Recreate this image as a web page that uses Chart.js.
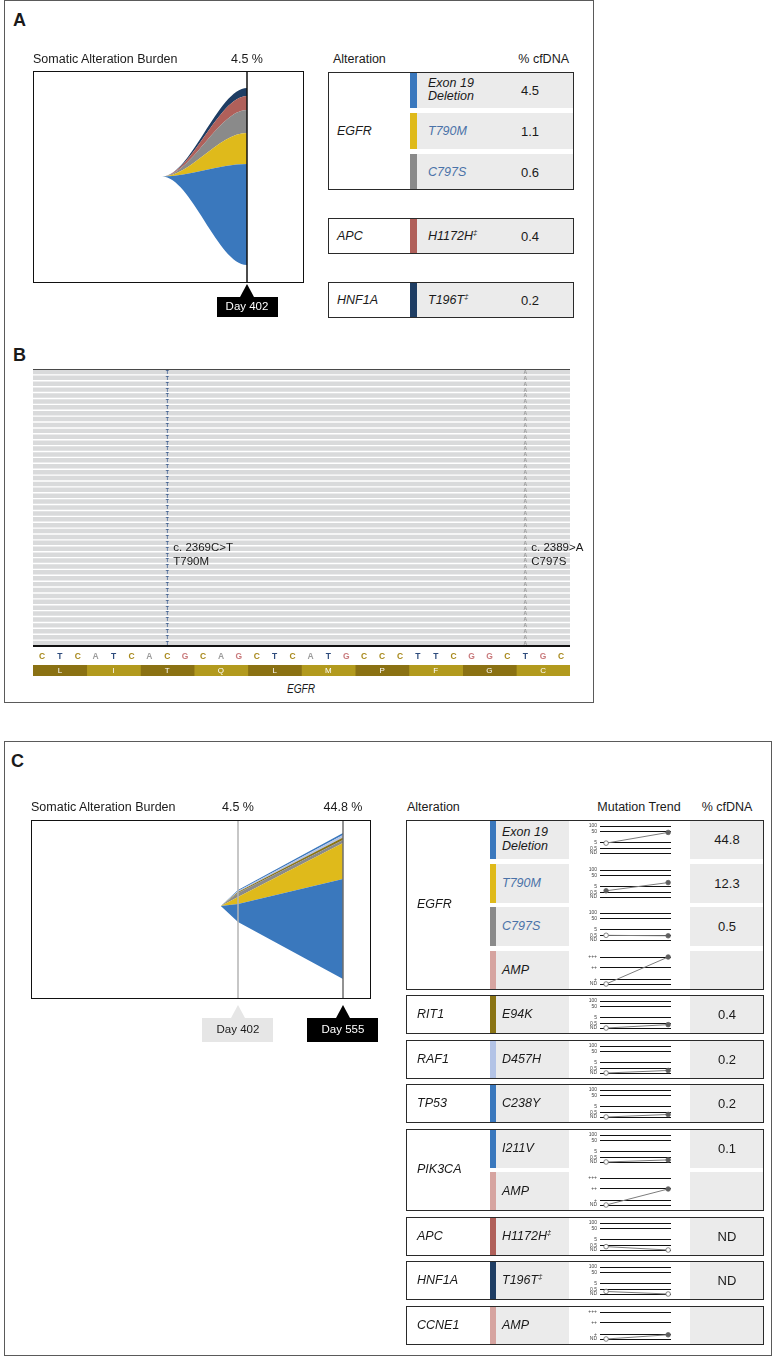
<!DOCTYPE html>
<html>
<head>
<meta charset="utf-8">
<title>Somatic alteration burden</title>
<script src="https://cdn.jsdelivr.net/npm/chart.js@4.4.1/dist/chart.umd.min.js"></script>
<style>
  body { margin:0; width:775px; height:1358px; position:relative; overflow:hidden; background:#fff;
         font-family:"Liberation Sans", Arial, Helvetica, sans-serif; color:#1a1a1a; }
  .t { position:absolute; white-space:nowrap; line-height:1; }
  .b { position:absolute; box-sizing:border-box; }
  canvas { position:absolute; }
  sup { font-size:0.6em; position:relative; top:-0.1em; vertical-align:top; }
</style>
</head>
<body>
<script>
// ==========================================
// Data
// ==========================================

// Panel A - alterations found at day 402
const aGenes = ["EGFR", "EGFR", "EGFR", "APC", "HNF1A"];
const aAlterations = ["Exon 19 Deletion", "T790M", "C797S", "H1172H‡", "T196T‡"];
const aCfDNA = [4.5, 1.1, 0.6, 0.4, 0.2];
const aColors = ["#3a78bd", "#dfba1b", "#8a8a8a", "#b0605a", "#1e3d63"];

// Fish plot A: band thickness (plot units, bottom to top) at emergence and day 402
const fishADays = [250, 402];
const fishABands = [[0, 101], [0, 31], [0, 23], [0, 14], [0, 8]];

// Panel B - reads over EGFR exon 20
const refSeq = ["C","T","C","A","T","C","A","C","G","C","A","G","C","T","C",
                "A","T","G","C","C","C","T","T","C","G","G","C","T","G","C"];
const aminoAcids = ["L", "I", "T", "Q", "L", "M", "P", "F", "G", "C"];
const readCount = 47;
const readSpan = [0, 30];
const mutPos = [7, 27];
const mutBase = ["T", "A"];
const mutLabels = [["c. 2369C>T", "T790M"], ["c. 2389>A", "C797S"]];

// Panel C - alterations at day 555
const cGenes = ["EGFR", "EGFR", "EGFR", "EGFR", "RIT1", "RAF1", "TP53", "PIK3CA", "PIK3CA", "APC", "HNF1A", "CCNE1"];
const cAlterations = ["Exon 19 Deletion", "T790M", "C797S", "AMP", "E94K", "D457H", "C238Y", "I211V", "AMP", "H1172H‡", "T196T‡", "AMP"];
const cCfDNA = [44.8, 12.3, 0.5, null, 0.4, 0.2, 0.2, 0.1, null, "ND", "ND", null];
const cColors = ["#3a78bd", "#dfba1b", "#8a8a8a", "#d6a4a0", "#8a7414", "#b3c3e6", "#3a78bd", "#3a78bd", "#d6a4a0", "#b0605a", "#1e3d63", "#d6a4a0"];

// Mutation trend: day 402 -> day 555
const trendDays = [402, 555];
const trendStart = [4.5, 1.1, 0.6, "ND", "ND", "ND", "ND", "ND", "ND", 0.4, 0.2, "ND"];
const trendEnd = [44.8, 12.3, 0.5, "+++", 0.4, 0.2, 0.2, 0.1, "++", "ND", "ND", "+"];
const startOpen = [true, false, true, true, true, true, true, true, true, true, true, true];
const endOpen = [false, false, false, false, false, false, false, false, false, true, true, false];

// Fish plot C: band thickness at emergence, day 402, day 555
const fishCDays = [377, 402, 555];
const fishCBands = [[0, 18, 100], [0, 7, 36], [0, 4, 3], [0, 1, 2.5], [0, 1, 2.5], [0, 1, 2]];
const fishCColors = ["#3a78bd", "#dfba1b", "#8a8a8a", "#8a7414", "#b3c3e6", "#3a78bd"];

const baseColors = { C: "#a8891c", T: "#2d4b7c", A: "#9c9c9c", G: "#c97a7c" };
const resistance = ["T790M", "C797S"];

// ==========================================
// Helpers
// ==========================================

Chart.defaults.font.family = '"Liberation Sans", Arial, sans-serif';

function txt(s, x, base, size, o = {}) {
   const d = document.createElement("div");
   d.className = "t";
   d.innerHTML = s.replace("‡", "<sup>‡</sup>");
   d.style.left = x + "px";
   d.style.top = (base - 0.847 * size) + "px";
   d.style.fontSize = size + "px";
   let tr = "";
   if (o.align == "center") tr = "translateX(-50%)";
   if (o.align == "right") tr = "translateX(-100%)";
   if (o.scaleX) tr += " scaleX(" + o.scaleX + ")";
   if (tr) d.style.transform = tr;
   if (o.italic) d.style.fontStyle = "italic";
   if (o.bold) d.style.fontWeight = "bold";
   if (o.color) d.style.color = o.color;
   document.body.appendChild(d);
   return d;
}

function box(x, y, w, h, style) {
   const d = document.createElement("div");
   d.className = "b";
   d.style.cssText += `left:${x}px;top:${y}px;width:${w}px;height:${h}px;${style}`;
   document.body.appendChild(d);
   return d;
}

function canvasAt(x, y, w, h) {
   const c = document.createElement("canvas");
   c.width = w; c.height = h;
   c.style.cssText = `left:${x}px;top:${y}px;width:${w}px;height:${h}px`;
   document.body.appendChild(c);
   return c;
}

function pointer(x, y, w, h, label, bg, fg) {
   // triangle + box under a fish plot
   const tri = document.createElement("div");
   tri.className = "b";
   tri.style.cssText += `left:${x - 7}px;top:${y - 13}px;width:0;height:0;border-left:7px solid transparent;border-right:7px solid transparent;border-bottom:13px solid ${bg}`;
   document.body.appendChild(tri);
   box(x - w / 2, y, w, h, "background:" + bg);
   txt(label, x, y + h / 2 + 4.1, 11.5, { align: "center", color: fg });
}

function groupsOf(genes) {
   const g = [];
   genes.forEach((name, i) => {
      if (!g.length || g[g.length - 1].gene != name) g.push({ gene: name, rows: [] });
      g[g.length - 1].rows.push(i);
   });
   return g;
}

function nameLines(s) {
   if (s.length > 10) { const k = s.lastIndexOf(" "); return [s.slice(0, k), s.slice(k + 1)]; }
   return [s];
}

// ==========================================
// Fish plots
// ==========================================

function fishDatasets(days, bands, colors, smooth) {
   let xs = days.slice(), cols = bands.map(b => b.slice());
   if (smooth) {
      // flat lead-in / lead-out so the monotone curve leaves and meets each sample flat
      xs = [days[0] - 40, ...days, days[days.length - 1] + 80];
      cols = bands.map(b => [b[0], ...b, b[b.length - 1]]);
   }
   const totals = xs.map((_, j) => cols.reduce((s, b) => s + b[j], 0));
   let edge = totals.map(t => -t / 2);
   const common = { borderWidth: 0, borderColor: "rgba(0,0,0,0)", pointRadius: 0, tension: 0,
                    cubicInterpolationMode: smooth ? "monotone" : "default" };
   const sets = [{ ...common, data: xs.map((x, j) => ({ x, y: edge[j] })), fill: false }];
   cols.forEach((b, k) => {
      edge = edge.map((e, j) => e + b[j]);
      sets.push({ ...common, data: xs.map((x, j) => ({ x, y: edge[j] })), fill: "-1", backgroundColor: colors[k] });
   });
   return sets;
}

function fishFrame(lines, lastDay) {
   return {
      id: "fishFrame",
      beforeDatasetsDraw(chart) {
         const { ctx, chartArea: a, scales: { x } } = chart;
         ctx.save();
         ctx.beginPath();
         ctx.rect(a.left, a.top, x.getPixelForValue(lastDay) - a.left, a.bottom - a.top);
         ctx.clip();
      },
      afterDatasetsDraw(chart) {
         const { ctx, chartArea: a, scales: { x } } = chart;
         ctx.restore();
         lines.forEach(l => {
            const px = Math.round(x.getPixelForValue(l.day));
            ctx.save();
            ctx.strokeStyle = l.color;
            ctx.lineWidth = l.width;
            ctx.beginPath();
            ctx.moveTo(px, a.top);
            ctx.lineTo(px, a.bottom);
            ctx.stroke();
            ctx.restore();
         });
      }
   };
}

function fishChart(canvas, sets, xmin, xmax, ymin, ymax, plugin) {
   return new Chart(canvas, {
      type: "line",
      data: { datasets: sets },
      options: {
         animation: false, responsive: false, events: [],
         plugins: { legend: { display: false }, tooltip: { enabled: false } },
         scales: {
            x: { type: "linear", min: xmin, max: xmax, display: false },
            y: { type: "linear", min: ymin, max: ymax, display: false }
         }
      },
      plugins: [plugin]
   });
}

// ==========================================
// Panel frames and letters
// ==========================================

box(4, 0, 590, 703, "border:1.5px solid #5a5a5a");
box(4, 741, 768, 615, "border:1.5px solid #5a5a5a");
txt("A", 13, 26, 18, { bold: true });
txt("B", 13, 361, 18, { bold: true });
txt("C", 11, 767, 18, { bold: true });

// ---------- Panel A fish ----------
const fishA = fishChart(canvasAt(33, 71, 271, 212), fishDatasets(fishADays, fishABands, aColors, true),
   19, 504, -106.5, 105.5, fishFrame([{ day: 402, color: "#111", width: 1.5 }], 402));
box(33, 71, 271, 212, "border:1.5px solid #111");
const a402 = 33 + fishA.scales.x.getPixelForValue(402);
txt("Somatic Alteration Burden", 33, 64, 12.5);
txt(aCfDNA[0].toFixed(1) + " %", a402, 64, 12.5, { align: "center" });
pointer(a402, 297, 61, 20, "Day 402", "#000", "#fff");

// ---------- Panel A table ----------
txt("Alteration", 333, 64, 12.5);
txt("% cfDNA", 569, 64, 12.5, { align: "right" });
(function () {
   let y = 72;
   const rowH = 36, gap = 5;
   groupsOf(aGenes).forEach(g => {
      const h = g.rows.length * rowH + (g.rows.length - 1) * gap;
      g.rows.forEach((i, j) => {
         const top = y + j * (rowH + gap), mid = top + rowH / 2;
         box(410, top, 7, rowH, "background:" + aColors[i]);
         box(417, top, 157, rowH, "background:#ebebeb");
         const col = resistance.includes(aAlterations[i]) ? "#4a72a8" : "#1a1a1a";
         const lines = nameLines(aAlterations[i]);
         lines.forEach((s, k) => txt(s, 428, mid + 4.3 + (lines.length > 1 ? (k ? 6.5 : -6.5) : 0), 12.5, { italic: true, color: col }));
         txt(aCfDNA[i].toFixed(1), 530, mid + 4.6, 13, { align: "center" });
      });
      txt(g.gene, 337, y + h / 2 + 4.3, 12.5, { italic: true });
      box(328, y, 246, h, "border:1.5px solid #2a2a2a");
      y += h + 28;
   });
})();

// ==========================================
// Panel B - pileup
// ==========================================

const pileup = {
   id: "pileup",
   afterDatasetsDraw(chart) {
      const { ctx, chartArea: a, scales: { x } } = chart;
      ctx.save();
      ctx.textAlign = "center";
      ctx.textBaseline = "middle";
      ctx.font = 'bold 5px "Liberation Sans"';
      chart.getDatasetMeta(0).data.forEach(bar => {
         mutPos.forEach((p, k) => {
            ctx.fillStyle = mutBase[k] == "T" ? "#3d5d8e" : "#9a9a9a";
            ctx.fillText(mutBase[k], x.getPixelForValue(p + 0.5), bar.y + 0.5);
         });
      });
      ctx.strokeStyle = "#111";
      ctx.lineWidth = 1.5;
      ctx.beginPath(); ctx.moveTo(a.left, a.top); ctx.lineTo(a.right, a.top); ctx.stroke();
      ctx.lineWidth = 2;
      ctx.beginPath(); ctx.moveTo(a.left, a.bottom); ctx.lineTo(a.right, a.bottom); ctx.stroke();
      ctx.font = 'bold 8.5px "Liberation Sans"';
      refSeq.forEach((b, i) => {
         ctx.fillStyle = baseColors[b];
         ctx.fillText(b, x.getPixelForValue(i + 0.5), a.bottom + 10.5);
      });
      ctx.restore();
   }
};

const readLabels = Array.from({ length: readCount }, (_, i) => "read " + (i + 1));
const readsChart = new Chart(canvasAt(33, 369, 537, 295), {
   type: "bar",
   data: { labels: readLabels, datasets: [{ data: readLabels.map(() => readSpan), backgroundColor: "#d9dadb",
                                             barPercentage: 1, categoryPercentage: 0.76 }] },
   options: {
      indexAxis: "y", animation: false, responsive: false, events: [],
      layout: { padding: { bottom: 18 } },
      plugins: { legend: { display: false }, tooltip: { enabled: false } },
      scales: { x: { type: "linear", min: readSpan[0], max: readSpan[1], display: false }, y: { display: false } }
   },
   plugins: [pileup]
});

const aaLabels = {
   id: "aaLabels",
   afterDatasetsDraw(chart) {
      const ctx = chart.ctx;
      ctx.save();
      ctx.font = '8px "Liberation Sans"';
      ctx.fillStyle = "#fff";
      ctx.textAlign = "center";
      ctx.textBaseline = "middle";
      chart.data.datasets.forEach((ds, i) => {
         const el = chart.getDatasetMeta(i).data[0];
         ctx.fillText(ds.label, (el.x + el.base) / 2, el.y + 0.5);
      });
      ctx.restore();
   }
};

new Chart(canvasAt(33, 665, 537, 11), {
   type: "bar",
   data: { labels: ["aa"], datasets: aminoAcids.map((aa, i) => ({
      label: aa, data: [3], backgroundColor: i % 2 ? "#b29a1e" : "#8a7113", barPercentage: 1, categoryPercentage: 1 })) },
   options: {
      indexAxis: "y", animation: false, responsive: false, events: [],
      plugins: { legend: { display: false }, tooltip: { enabled: false } },
      scales: { x: { stacked: true, min: 0, max: 30, display: false }, y: { stacked: true, display: false } }
   },
   plugins: [aaLabels]
});

mutLabels.forEach((lab, k) => {
   const px = 33 + readsChart.scales.x.getPixelForValue(mutPos[k] + 0.5) + 6;
   txt(lab[0], px, 552, 11.5);
   txt(lab[1], px, 566, 11.5);
});
txt("EGFR", 301, 693, 13, { italic: true, align: "center", scaleX: 0.78 });

// ==========================================
// Panel C - fish
// ==========================================

const fishC = fishChart(canvasAt(31, 820, 340, 179), fishDatasets(fishCDays, fishCBands, fishCColors, false),
   100.4, 595.8, -93, 86,
   fishFrame([{ day: 402, color: "#b5b5b5", width: 1.5 }, { day: 555, color: "#6e6e6e", width: 1.5 }], 555));
box(31, 820, 340, 179, "border:1.5px solid #111");
const c402 = 31 + fishC.scales.x.getPixelForValue(402);
const c555 = 31 + fishC.scales.x.getPixelForValue(555);
txt("Somatic Alteration Burden", 31, 812, 12.5);
txt("4.5 %", c402, 812, 12.5, { align: "center" });
txt(cCfDNA[0].toFixed(1) + " %", c555, 812, 12.5, { align: "center" });
pointer(c402, 1018, 71, 24, "Day 402", "#e6e6e6", "#1a1a1a");
pointer(c555, 1018, 71, 24, "Day 555", "#000", "#fff");

// ==========================================
// Panel C - table with mutation trends
// ==========================================

const mutTicks = [[0, "ND"], [5, "0.5"], [12, "5"], [25, "50"], [32, "100"]];
const ampTicks = [[0, "ND"], [5, "+"], [19, "++"], [32, "+++"]];
const mutSteps = [[0.5, 5], [5, 12], [50, 25], [100, 32]];

function trendLevel(v, amp) {
   if (v === "ND") return 0;
   if (amp) return ampTicks.find(t => t[1] == v)[0];
   if (v < 0.5) return 2 + 5 * v;
   for (let i = 0; i < mutSteps.length - 1; i++) {
      const [v0, l0] = mutSteps[i], [v1, l1] = mutSteps[i + 1];
      if (v <= v1) return l0 + (l1 - l0) * Math.log10(v / v0) / Math.log10(v1 / v0);
   }
   return 32;
}

function trendChart(canvas, i) {
   const amp = cAlterations[i] == "AMP";
   const ticks = amp ? ampTicks : mutTicks;
   return new Chart(canvas, {
      type: "line",
      data: { datasets: [{
         data: [{ x: trendDays[0], y: trendLevel(trendStart[i], amp) }, { x: trendDays[1], y: trendLevel(trendEnd[i], amp) }],
         borderColor: "#7c7c7c", borderWidth: 1, clip: false,
         pointRadius: 2.3, pointBorderWidth: 0.8, pointBorderColor: "#666",
         pointBackgroundColor: [startOpen[i] ? "#fff" : "#5e5e5e", endOpen[i] ? "#fff" : "#5e5e5e"]
      }] },
      options: {
         animation: false, responsive: false, events: [],
         layout: { padding: { left: 4, right: 19, top: 4, bottom: 3 } },
         plugins: { legend: { display: false }, tooltip: { enabled: false } },
         scales: {
            x: { type: "linear", min: 387, max: 562, display: false },
            y: {
               type: "linear", min: 0, max: 32,
               afterFit: s => { s.width = 27; },
               afterBuildTicks: s => { s.ticks = ticks.map(t => ({ value: t[0] })); },
               ticks: { autoSkip: false, padding: 3, color: "#444", font: { size: 5 },
                        callback: v => (ticks.find(t => t[0] == v) || [0, ""])[1] },
               grid: { color: "#111", lineWidth: 1, drawTicks: false },
               border: { display: false }
            }
         }
      }
   });
}

txt("Alteration", 407, 812, 12.5);
txt("Mutation Trend", 639, 812, 12.5, { align: "center" });
txt("% cfDNA", 727, 812, 12.5, { align: "center" });
(function () {
   let y = 820;
   const rowH = 39, gap = 4.5;
   groupsOf(cGenes).forEach(g => {
      const h = g.rows.length * rowH + (g.rows.length - 1) * gap;
      g.rows.forEach((i, j) => {
         const top = y + j * (rowH + gap), mid = top + rowH / 2;
         box(490, top, 6, rowH, "background:" + cColors[i]);
         box(496, top, 73, rowH, "background:#ebebeb");
         box(690, top, 74, rowH, "background:#ebebeb");
         trendChart(canvasAt(569, top, 121, rowH), i);
         const col = resistance.includes(cAlterations[i]) ? "#4a72a8" : "#1a1a1a";
         const lines = nameLines(cAlterations[i]);
         lines.forEach((s, k) => txt(s, 502, mid + 4.3 + (lines.length > 1 ? (k ? 7 : -7) : 0), 12.5, { italic: true, color: col }));
         const v = cCfDNA[i];
         if (v !== null) txt(typeof v == "number" ? v.toFixed(1) : v, 727, mid + 4.6, 13, { align: "center" });
      });
      txt(g.gene, 417, y + h / 2 + 4.3, 12.5, { italic: true });
      box(406, y, 358, h, "border:1.5px solid #2a2a2a");
      y += h + 5.5;
   });
})();
</script>
</body>
</html>
